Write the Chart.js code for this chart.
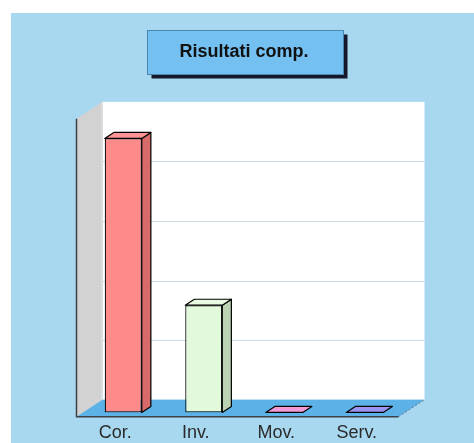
<!DOCTYPE html>
<html>
<head>
<meta charset="utf-8">
<style>
  html, body { margin: 0; padding: 0; background: #ffffff; }
  #wrap { position: absolute; left: 0; top: 0; width: 474px; height: 443px; }
</style>
<script src="https://cdn.jsdelivr.net/npm/chart.js@4.4.1/dist/chart.umd.min.js"></script>
</head>
<body>
<div id="wrap"><canvas id="c" width="474" height="443"></canvas></div>
<script>
// ---- data ----
const titleText = "Risultati comp.";
const categories = ["Cor.", "Inv.", "Mov.", "Serv."];
const values = [23, 9, 0, 0];
const yMax = 25;
const yStep = 5;

// ---- styles ----
const frontColors = ["#ff8a8a", "#e3f9dc", "#f39ad6", "#9a94f2"];
const topColors   = ["#ff9494", "#e8fbe2", "#f39ad6", "#9a94f2"];
const sideColors  = ["#d96a6a", "#bcd3b3", "#c87aae", "#7a74cc"];
const BG = "#a8d8ef";
const FLOOR = "#5cb2e6";
const WALL_SIDE = "#d2d2d2";
const DEPTH = { x: 26, y: -17 };   // full floor depth
const FRONT_F = 0.25;              // bars sit this far back from the front edge
const BAR_D = 0.35;                // bar depth as fraction of floor depth

const decor = {
  id: 'decor',
  beforeDraw(chart) {
    const ctx = chart.ctx;
    ctx.save();
    ctx.fillStyle = BG;
    ctx.fillRect(11, 13, chart.width - 11, chart.height - 13);
    // title box
    const t = chart.titleBlock;
    const cx = (t.left + t.right) / 2;
    const cy = t.top + t.options.padding.top + 10.8;
    const w = 196, h = 44;
    const bx = Math.round(cx - w / 2) + 1.5, by = Math.round(cy - 22) + 0.5;
    ctx.fillStyle = "#14182a";
    ctx.fillRect(bx + 4, by + 4, w, h);
    ctx.fillStyle = "#74c0f0";
    ctx.fillRect(bx, by, w, h);
    ctx.strokeStyle = "#4c86ad";
    ctx.lineWidth = 1;
    ctx.strokeRect(bx, by, w, h);
    ctx.restore();
  },
  beforeDatasetsDraw(chart) {
    const ctx = chart.ctx;
    const a = chart.chartArea;
    const ys = chart.scales.y;
    const fx = -FRONT_F * DEPTH.x, fy = -FRONT_F * DEPTH.y;
    const bkx = (1 - FRONT_F) * DEPTH.x, bky = (1 - FRONT_F) * DEPTH.y;
    const FL = a.left + fx, FR = a.right + fx, FB = a.bottom + fy, FT = a.top + fy;
    const BL = a.left + bkx, BR = a.right + bkx, BB = a.bottom + bky, BT = a.top + bky;
    ctx.save();
    // back wall
    ctx.fillStyle = "#ffffff";
    ctx.fillRect(BL, BT, BR - BL, BB - BT);
    ctx.strokeStyle = "#cfdbe3";
    ctx.lineWidth = 1;
    for (let v = yStep; v < yMax; v += yStep) {
      const y = Math.round(ys.getPixelForValue(v) + bky) + 0.5;
      ctx.beginPath(); ctx.moveTo(BL, y); ctx.lineTo(BR, y); ctx.stroke();
    }
    // left wall
    ctx.fillStyle = WALL_SIDE;
    ctx.beginPath();
    ctx.moveTo(FL, FT); ctx.lineTo(BL, BT); ctx.lineTo(BL, BB); ctx.lineTo(FL, FB);
    ctx.closePath(); ctx.fill();
    ctx.strokeStyle = "#e4e4e4";
    ctx.beginPath(); ctx.moveTo(BL - 0.5, BT); ctx.lineTo(BL - 0.5, BB); ctx.stroke();
    // floor
    ctx.fillStyle = FLOOR;
    ctx.beginPath();
    ctx.moveTo(FL, FB); ctx.lineTo(FR, FB); ctx.lineTo(BR, BB); ctx.lineTo(BL, BB);
    ctx.closePath(); ctx.fill();
    // edges
    ctx.strokeStyle = "#3a3f48";
    ctx.lineWidth = 1.5;
    ctx.beginPath(); ctx.moveTo(FL, FT); ctx.lineTo(FL, FB); ctx.lineTo(FR, FB); ctx.stroke();
    ctx.strokeStyle = "#6a7a88";
    ctx.lineWidth = 1;
    ctx.setLineDash([2, 2]);
    ctx.beginPath(); ctx.moveTo(FR, FB); ctx.lineTo(BR, BB); ctx.stroke();
    ctx.setLineDash([]);
    ctx.restore();
  },
  afterDatasetsDraw(chart) {
    const ctx = chart.ctx;
    const meta = chart.getDatasetMeta(0);
    const dx = BAR_D * DEPTH.x, dy = BAR_D * DEPTH.y;
    ctx.save();
    ctx.strokeStyle = "#000000";
    ctx.lineWidth = 1.2;
    ctx.lineJoin = "round";
    meta.data.forEach((bar, i) => {
      const p = bar.getProps(['x', 'y', 'base', 'width'], true);
      const x0 = p.x - p.width / 2, x1 = p.x + p.width / 2;
      const top = Math.min(p.y, p.base), base = Math.max(p.y, p.base);
      // side face
      if (base - top > 0.5) {
        ctx.fillStyle = sideColors[i];
        ctx.beginPath();
        ctx.moveTo(x1, top); ctx.lineTo(x1 + dx, top + dy);
        ctx.lineTo(x1 + dx, base + dy); ctx.lineTo(x1, base);
        ctx.closePath(); ctx.fill(); ctx.stroke();
      }
      // top face
      ctx.fillStyle = topColors[i];
      ctx.beginPath();
      ctx.moveTo(x0, top); ctx.lineTo(x1, top);
      ctx.lineTo(x1 + dx, top + dy); ctx.lineTo(x0 + dx, top + dy);
      ctx.closePath(); ctx.fill(); ctx.stroke();
    });
    ctx.restore();
  }
};

new Chart(document.getElementById('c'), {
  type: 'bar',
  data: {
    labels: categories,
    datasets: [{
      data: values,
      backgroundColor: frontColors,
      borderColor: "#000000",
      borderWidth: 1.2,
      borderSkipped: false,
      categoryPercentage: 1.0,
      barPercentage: 0.46
    }]
  },
  options: {
    responsive: false,
    animation: false,
    devicePixelRatio: 1,
    layout: { padding: { left: 83, right: 69, top: 0, bottom: -11 } },
    plugins: {
      legend: { display: false },
      tooltip: { enabled: false },
      title: {
        display: true,
        text: titleText,
        color: "#111111",
        font: { family: "'Liberation Sans', Arial, sans-serif", size: 18, weight: 'bold' },
        padding: { top: 41, bottom: 52 }
      }
    },
    scales: {
      x: {
        grid: { display: false, drawTicks: false },
        border: { display: false },
        ticks: {
          color: "#2a2a2a",
          font: { family: "'Liberation Sans', Arial, sans-serif", size: 18 },
          padding: 10,
          labelOffset: -8
        }
      },
      y: {
        display: false,
        min: 0,
        max: yMax,
        ticks: { stepSize: yStep }
      }
    }
  },
  plugins: [decor]
});
</script>
</body>
</html>
